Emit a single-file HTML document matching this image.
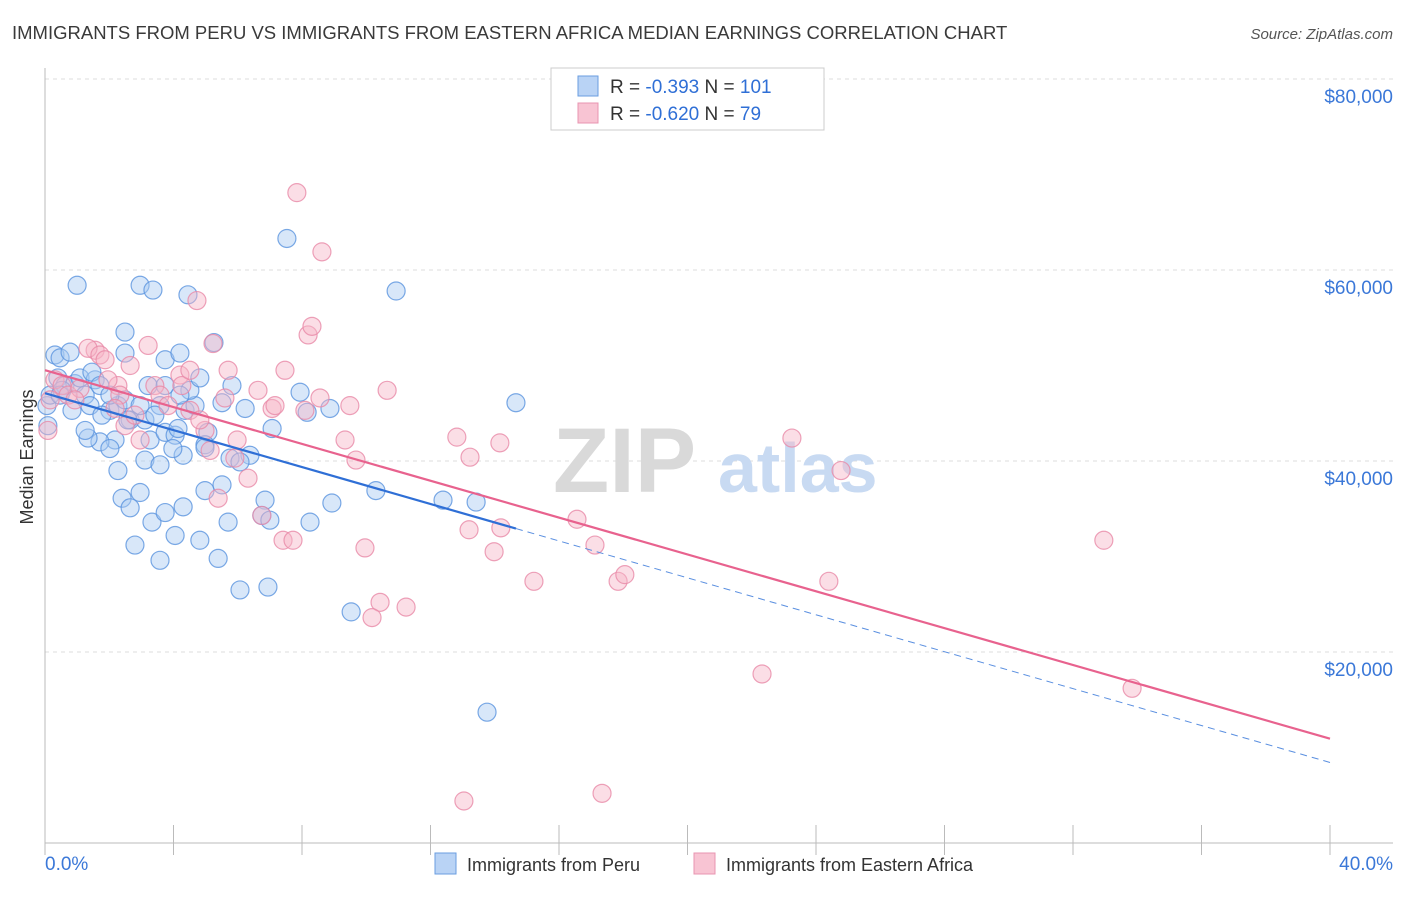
<!DOCTYPE html>
<html><head><meta charset="utf-8">
<style>
body{margin:0;background:#fff;font-family:"Liberation Sans",sans-serif;}
svg text{font-family:"Liberation Sans",sans-serif;}
</style></head>
<body>
<svg id="chart" width="1406" height="892" viewBox="0 0 1406 892" xmlns="http://www.w3.org/2000/svg">
<text x="12" y="39" font-size="18.5" fill="#3a3a3a">IMMIGRANTS FROM PERU VS IMMIGRANTS FROM EASTERN AFRICA MEDIAN EARNINGS CORRELATION CHART</text>
<text x="1393" y="39" font-size="15" fill="#555" text-anchor="end" font-style="italic">Source: ZipAtlas.com</text>
<g id="grid"></g>
<g>
<text x="553" y="492" font-size="92" fill="#d9d9d9" font-family="Liberation Serif" font-weight="bold">ZIP</text>
<text x="718" y="492" font-size="70" fill="#c8daf2" font-weight="bold">atlas</text>
</g>
<g id="axes"></g>
<g id="points"></g>
<g id="lines"></g>
<text transform="translate(33,457) rotate(-90)" font-size="18" fill="#333" text-anchor="middle">Median Earnings</text>
<g>
<rect x="551" y="68" width="273" height="62" fill="#fff" stroke="#ccc"/>
<rect x="578" y="76" width="20" height="20" fill="#b9d3f5" stroke="#6a9ee0"/>
<rect x="578" y="103" width="20" height="20" fill="#f8c4d3" stroke="#e895b0"/>
<text x="610" y="93" font-size="19" fill="#333">R = <tspan fill="#2f6fd6">-0.393</tspan>   N = <tspan fill="#2f6fd6">101</tspan></text>
<text x="610" y="120" font-size="19" fill="#333">R = <tspan fill="#2f6fd6">-0.620</tspan>   N = <tspan fill="#2f6fd6"> 79</tspan></text>
</g>
<g>
<rect x="435" y="853" width="21" height="21" fill="#b9d3f5" stroke="#6a9ee0"/>
<text x="467" y="871" font-size="18" fill="#333">Immigrants from Peru</text>
<rect x="694" y="853" width="21" height="21" fill="#f8c4d3" stroke="#e895b0"/>
<text x="726" y="871" font-size="18" fill="#333">Immigrants from Eastern Africa</text>
</g>
</svg>
<script>
const yTicks=[20000,40000,60000,80000];
const yTickLabels=["$20,000","$40,000","$60,000","$80,000"];
const xTicks=[0,4,8,12,16,20,24,28,32,36,40];
const xEndLabels=["0.0%","40.0%"];
const peruX=[0.31,0.47,0.78,0.40,0.62,0.93,1.09,1.56,1.46,1.25,0.84,1.40,2.02,1.77,2.27,2.49,2.65,2.18,1.71,1.34,1.25,2.02,2.58,3.11,3.27,2.96,3.58,3.42,3.74,4.05,4.14,4.36,4.67,4.51,4.82,3.74,4.20,2.49,2.49,1.00,2.96,3.36,4.45,5.26,5.82,6.23,5.51,5.07,4.98,5.76,6.38,7.07,7.94,8.16,8.87,2.27,2.40,2.65,2.96,3.33,3.74,4.30,4.05,4.82,5.39,5.70,5.51,4.98,6.07,6.85,6.75,7.00,8.25,8.93,10.30,9.53,6.94,2.80,3.58,7.53,10.93,14.66,12.39,13.42,13.76,0.09,0.06,0.16,0.53,1.71,2.02,3.11,3.58,4.30,3.98,4.98,6.07,3.21,3.74,4.20,0.47];
const peruY=[51100,50800,51400,48700,47900,48100,48700,48500,49300,46900,45300,45800,45300,44800,45800,46400,44300,42200,42000,42400,43200,41300,44300,44300,42200,45800,45800,44800,43000,42700,43400,45300,45800,47400,48700,50600,51300,51300,53500,58400,58400,57900,57400,52400,47900,45500,46100,43000,41700,40300,40600,43400,47200,45100,45500,39000,36100,35100,36700,33600,34600,35200,32200,31700,29800,33600,37500,36900,26500,35900,34300,33800,33600,35600,36900,24200,26800,31200,29600,63300,57800,46100,35900,35700,13700,43700,45800,46900,47400,47900,46900,40100,39600,40600,41300,41400,39900,47900,47900,46900,46900];
const africaX=[0.31,0.53,0.72,1.09,1.56,1.34,1.71,1.87,2.27,2.33,2.18,2.49,2.80,2.96,3.21,3.42,3.58,3.83,4.20,4.26,4.51,4.73,5.23,4.98,5.14,5.39,5.60,5.70,5.98,5.91,6.32,6.63,6.75,7.07,7.16,7.47,7.41,7.72,7.84,8.62,8.19,8.31,8.56,8.09,9.34,9.49,9.68,9.96,10.43,10.18,10.65,11.24,12.82,13.23,13.20,14.16,13.98,14.19,15.22,16.56,17.12,17.84,18.05,13.04,17.34,22.32,23.25,24.40,24.78,32.96,33.84,0.09,0.16,0.93,1.96,2.65,4.51,4.82];
const africaY=[48500,47900,46900,47600,51600,51800,51100,50600,47900,46900,45500,43700,44800,42200,52100,47900,46900,45800,49000,47900,45300,56800,52300,43200,41100,36100,46600,49500,42200,40300,38200,47400,34300,45500,45800,49500,31700,31700,68100,61900,53200,54100,46600,45300,42200,45800,40100,30900,25200,23600,47400,24700,42500,40400,32800,41900,30500,33000,27400,33900,31200,27400,28100,4400,5200,17700,42400,27400,39000,31700,16200,43200,46400,46400,48500,50000,49500,44300];
const X0=45,X1=1330,Y0=843,PXPERUNIT=191/20000;
function xs(v){return X0+(v-xTicks[0])*(X1-X0)/(xTicks[xTicks.length-1]-xTicks[0]);}
function ys(v){return Y0-v*PXPERUNIT;}
const NS="http://www.w3.org/2000/svg";
function mk(tag,attrs,parent){const e=document.createElementNS(NS,tag);for(const k in attrs)e.setAttribute(k,attrs[k]);parent.appendChild(e);return e;}
const grid=document.getElementById('grid'),axes=document.getElementById('axes'),pts=document.getElementById('points'),lines=document.getElementById('lines');
yTicks.forEach((t,i)=>{
  const l=mk('line',{x1:X0,x2:1393,y1:ys(t),y2:ys(t),stroke:'#ddd','stroke-dasharray':'4,4'},grid);
  
  
  const tx=mk('text',{x:1393,y:ys(t)+24,'font-size':19,fill:'#3b78d8','text-anchor':'end'},axes);
  tx.textContent=yTickLabels[i];
  
  
});
const ax=mk('line',{x1:X0,x2:1393,y1:Y0,y2:Y0,stroke:'#bbb'},axes);


const ay=mk('line',{x1:X0,x2:X0,y1:68,y2:Y0,stroke:'#bbb'},axes);


xTicks.forEach(t=>{
  const l=mk('line',{x1:xs(t),x2:xs(t),y1:Y0-18,y2:Y0+12,stroke:'#bbb'},axes);
  
  
});
const xl0=mk('text',{x:45,y:870,'font-size':19,fill:'#3b78d8'},axes);xl0.textContent=xEndLabels[0];


const xl1=mk('text',{x:1393,y:870,'font-size':19,fill:'#3b78d8','text-anchor':'end'},axes);xl1.textContent=xEndLabels[1];


function drawPts(X,Y,fill,stroke,name){
  X.forEach((x,i)=>{
    const c=mk('circle',{cx:xs(x),cy:ys(Y[i]),r:9,fill:fill,'fill-opacity':0.45,stroke:stroke,'stroke-opacity':0.8,'stroke-width':1.2},pts);
    
    
  });
}
drawPts(peruX,peruY,'#a9c9f2','#5a93de','peru-point');
drawPts(africaX,africaY,'#f6b5c8','#e88aa8','eastern-africa-point');
function fit(X,Y){const n=X.length;let mx=0,my=0;X.forEach((x,i)=>{mx+=x;my+=Y[i];});mx/=n;my/=n;let sxy=0,sxx=0;X.forEach((x,i)=>{sxy+=(x-mx)*(Y[i]-my);sxx+=(x-mx)*(x-mx);});const b=sxy/sxx;return [my-b*mx,b];}
const [ab,bb]=fit(peruX,peruY);
const [aa,ba]=fit(africaX,africaY);
const maxPeru=Math.max(...peruX.filter(x=>x<15));
let l=mk('line',{x1:xs(0),y1:ys(ab),x2:xs(maxPeru),y2:ys(ab+bb*maxPeru),stroke:'#2f6fd6','stroke-width':2.2},lines);


l=mk('line',{x1:xs(maxPeru),y1:ys(ab+bb*maxPeru),x2:xs(40),y2:ys(ab+bb*40),stroke:'#5a8fe0','stroke-width':1,'stroke-dasharray':'7,5'},lines);


l=mk('line',{x1:xs(0),y1:ys(aa),x2:xs(40),y2:ys(aa+ba*40),stroke:'#e8628e','stroke-width':2.2},lines);


</script>
</body></html>
